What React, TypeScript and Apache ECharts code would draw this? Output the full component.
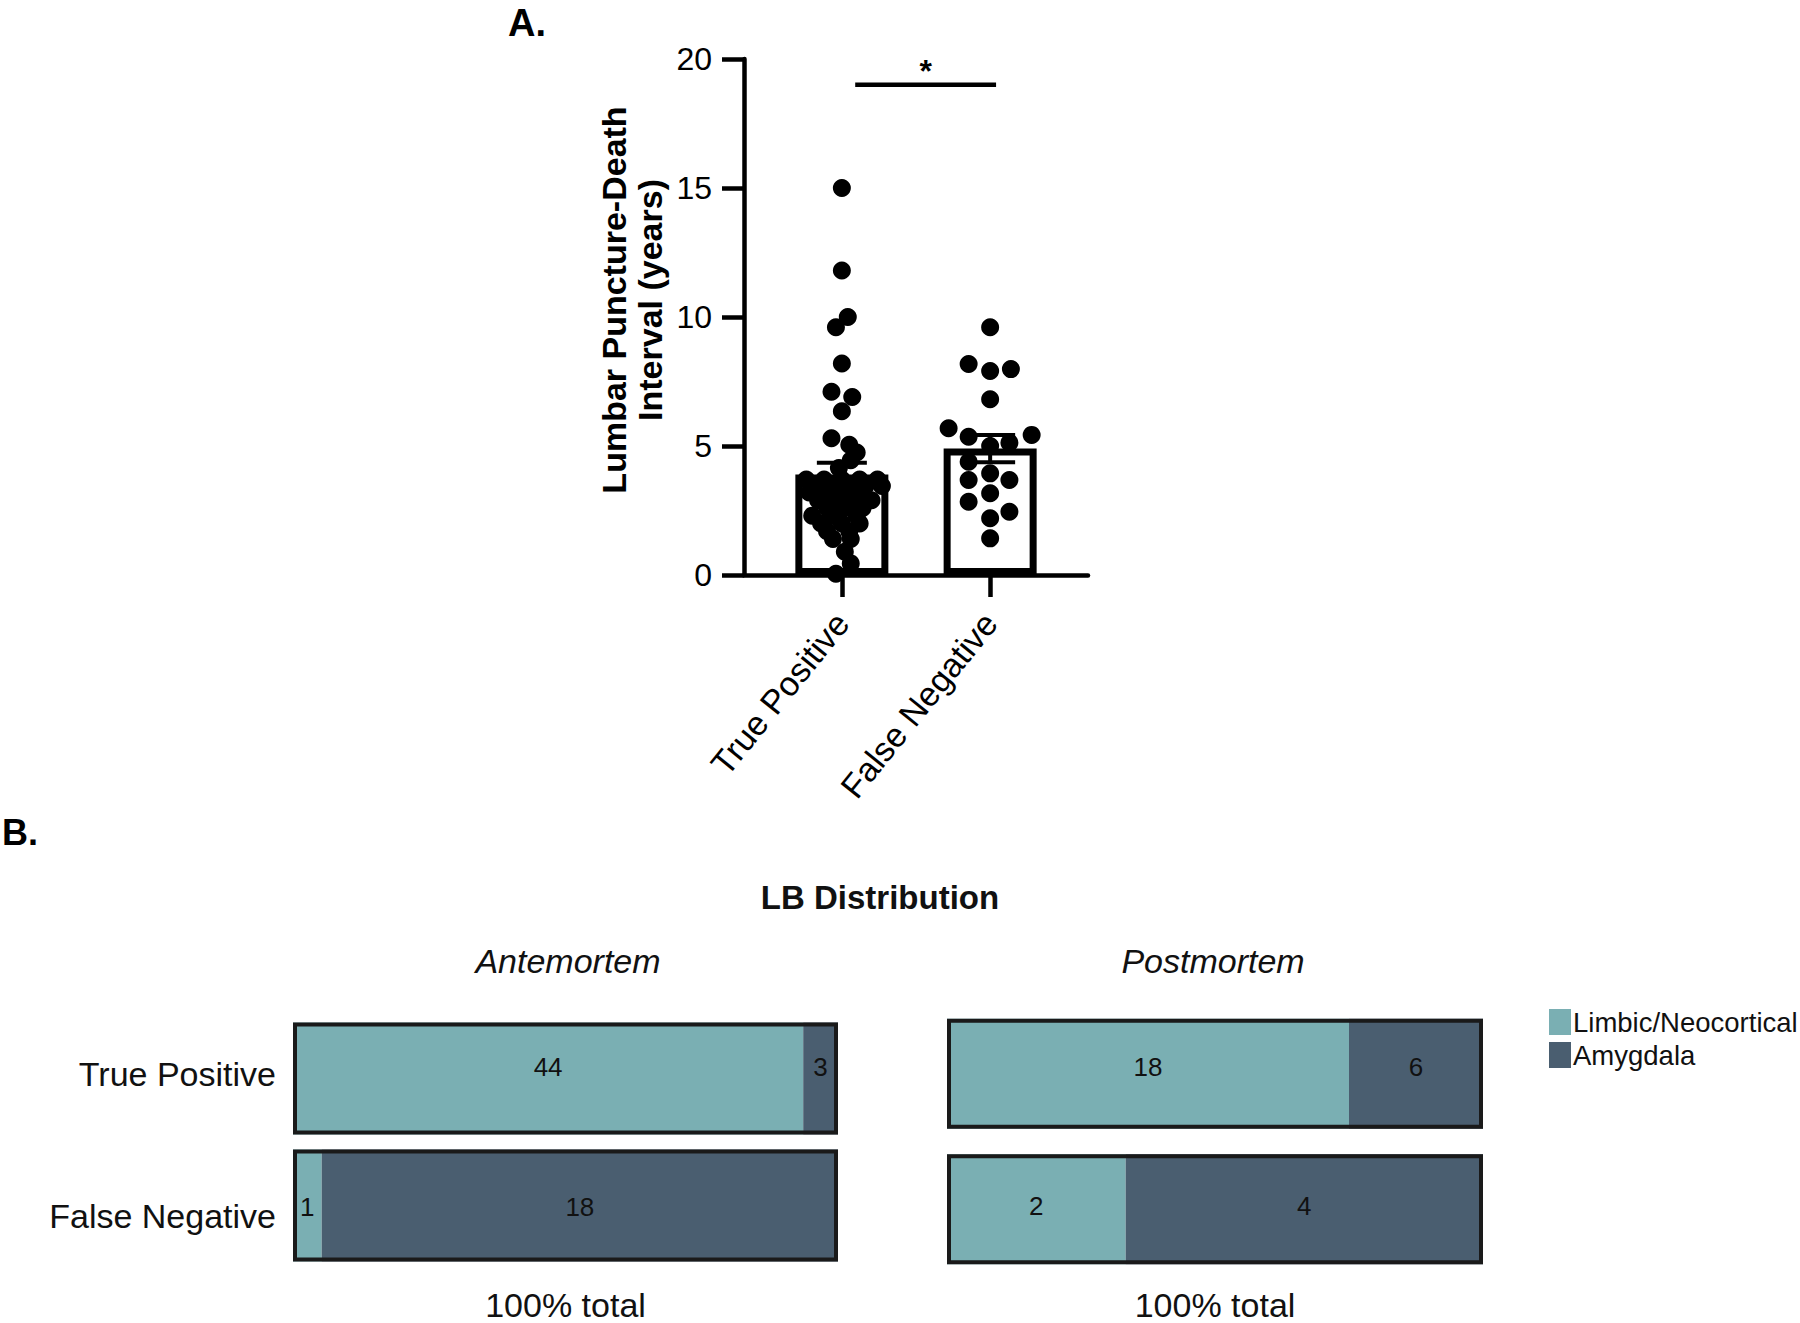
import React, { useEffect, useRef } from 'react';
import * as echarts from 'echarts';

const FONT = '"Liberation Sans", Arial, Helvetica, sans-serif';

// ---------- Panel A data ----------
const groupNames = ['True Positive', 'False Negative'];
const groupPositions = [1, 2];
const barMeans = [3.9, 4.9];
const barSems = [0.45, 0.53];
const tpValues = [
  15.0, 11.8, 10.0, 9.6, 8.2, 7.1, 6.9, 6.35, 5.3, 5.05, 4.75, 4.45, 4.15,
  3.7, 3.7, 3.7, 3.7, 3.7,
  3.45, 3.45, 3.45, 3.45, 3.45,
  3.2, 3.2, 3.2, 3.2,
  2.9, 2.9, 2.9, 2.9,
  2.6, 2.6, 2.6,
  2.3, 2.3, 2.3,
  2.0, 2.0, 2.0,
  1.7, 1.7,
  1.4, 1.4,
  0.9, 0.45, 0.05,
];
const tpJitter = [
  0, 0, 0.04, -0.04, 0, -0.07, 0.07, 0, -0.07, 0.05, 0.1, 0.06, -0.02,
  -0.24, -0.12, 0, 0.12, 0.24,
  -0.2, -0.08, 0.04, 0.16, 0.27,
  -0.22, -0.1, 0.02, 0.14,
  -0.16, -0.04, 0.08, 0.2,
  -0.1, 0.02, 0.14,
  -0.2, -0.06, 0.1,
  -0.14, 0, 0.12,
  -0.1, 0.05,
  -0.06, 0.06,
  0.02, 0.06, -0.04,
];
const fnValues = [
  9.6, 8.18, 7.91, 7.98, 6.81, 5.69, 5.36, 5.43, 5.13, 5.0,
  4.39, 3.94, 3.68, 3.68, 3.17, 2.84, 2.45, 2.2, 1.42,
];
const fnJitter = [
  0, -0.145, 0, 0.14, 0, -0.28, -0.145, 0.28, 0.13, 0,
  -0.145, 0, -0.145, 0.13, 0, -0.145, 0.13, 0, 0,
];
const yMin = 0;
const yMax = 20;
const yInterval = 5;
const sigSpan = [1.09, 2.04];
const sigLevel = 19.0;
const sigLabel = '*';

// ---------- Panel B data ----------
const lbCategories = ['True Positive', 'False Negative'];
const anteLimbic = [44, 1];
const anteAmygdala = [3, 18];
const postLimbic = [18, 2];
const postAmygdala = [6, 4];
const seriesNames = ['Limbic/Neocortical', 'Amygdala'];
const colLimbic = '#7AAFB3';
const colAmygdala = '#4A5E70';

const pct = (a: number[], b: number[], useA: boolean) =>
  a.map((v, i) => ((useA ? v : b[i]) / (v + b[i])) * 100);

function stackSeries(
  idx: number,
  limbic: number[],
  amyg: number[],
  barWidth: number,
  rowOffsets: number[]
) {
  const mk = (vals: number[], counts: number[]) =>
    vals.map((v, i) => ({
      value: v,
      label: {
        show: true,
        position: 'inside',
        fontSize: 26,
        color: '#111',
        fontFamily: FONT,
        offset: [0, rowOffsets[i]],
        formatter: String(counts[i]),
      },
    }));
  return [
    {
      name: seriesNames[0],
      type: 'bar',
      xAxisIndex: idx,
      yAxisIndex: idx,
      stack: 'lb' + idx,
      barWidth,
      barGap: '-100%',
      data: mk(pct(limbic, amyg, true), limbic),
      itemStyle: { color: colLimbic },
      z: 2,
    },
    {
      name: seriesNames[1],
      type: 'bar',
      xAxisIndex: idx,
      yAxisIndex: idx,
      stack: 'lb' + idx,
      barWidth,
      barGap: '-100%',
      data: mk(pct(limbic, amyg, false), amyg),
      itemStyle: { color: colAmygdala },
      z: 2,
    },
    {
      name: 'outline',
      type: 'bar',
      xAxisIndex: idx,
      yAxisIndex: idx,
      barWidth,
      barGap: '-100%',
      silent: true,
      data: limbic.map(() => 100),
      itemStyle: { color: 'rgba(0,0,0,0)', borderColor: '#1a1a1a', borderWidth: 4 },
      z: 3,
    },
  ];
}

export default function App() {
  const ref = useRef<HTMLDivElement>(null);

  useEffect(() => {
    if (!ref.current) return;
    const chart = echarts.init(ref.current, undefined, { renderer: 'svg' });

    const axisBlack = { color: '#000', width: 4.5 };

    const option: any = {
      animation: false,
      backgroundColor: '#fff',
      textStyle: { fontFamily: FONT },
      legend: {
        data: seriesNames,
        orient: 'vertical',
        left: 1549,
        top: 1008,
        padding: 0,
        itemWidth: 22,
        itemHeight: 26,
        itemGap: 5,
        icon: 'rect',
        textStyle: {
          fontSize: 27.5,
          lineHeight: 26,
          color: '#111',
          fontFamily: FONT,
          padding: [0, 0, 0, -3],
        },
      },
      grid: [
        { left: 744, top: 59, width: 344, height: 516 },
        { left: 293, top: 1015, width: 545, height: 257 },
        { left: 947, top: 1006, width: 536, height: 274 },
      ],
      xAxis: [
        {
          type: 'value',
          gridIndex: 0,
          min: 0.34,
          max: 2.66,
          splitLine: { show: false },
          axisLine: { show: true, lineStyle: axisBlack },
          axisTick: { show: true, customValues: groupPositions, length: 22, lineStyle: axisBlack },
          axisLabel: {
            customValues: groupPositions,
            formatter: (v: number) => groupNames[Math.round(v) - 1] ?? '',
            rotate: 51,
            margin: 42,
            fontSize: 34,
            color: '#000',
            fontFamily: FONT,
          },
        },
        {
          type: 'value',
          gridIndex: 1,
          min: 0,
          max: 100,
          axisLine: { show: false },
          axisTick: { show: false },
          axisLabel: { show: false },
          splitLine: { show: false },
          name: '100% total',
          nameLocation: 'middle',
          nameGap: 19,
          nameTextStyle: { fontSize: 34, color: '#111', fontFamily: FONT },
        },
        {
          type: 'value',
          gridIndex: 2,
          min: 0,
          max: 100,
          axisLine: { show: false },
          axisTick: { show: false },
          axisLabel: { show: false },
          splitLine: { show: false },
          name: '100% total',
          nameLocation: 'middle',
          nameGap: 11,
          nameTextStyle: { fontSize: 34, color: '#111', fontFamily: FONT },
        },
      ],
      yAxis: [
        {
          type: 'value',
          gridIndex: 0,
          min: yMin,
          max: yMax,
          interval: yInterval,
          splitLine: { show: false },
          axisLine: { show: true, lineStyle: axisBlack },
          axisTick: { show: true, length: 22, lineStyle: axisBlack },
          axisLabel: { fontSize: 32, margin: 32, color: '#000', fontFamily: FONT },
        },
        {
          type: 'category',
          gridIndex: 1,
          data: lbCategories,
          inverse: true,
          axisLine: { show: false },
          axisTick: { show: false },
          axisLabel: {
            fontSize: 34,
            margin: 17,
            color: '#111',
            fontFamily: FONT,
            formatter: (v: string, i: number) => (i === 0 ? `{tp|${v}}` : `{fn|${v}}`),
            rich: {
              tp: { fontSize: 34, color: '#111', fontFamily: FONT, padding: [0, 0, 9, 0] },
              fn: { fontSize: 34, color: '#111', fontFamily: FONT, padding: [20, 0, 0, 0] },
            },
          },
        },
        {
          type: 'category',
          gridIndex: 2,
          data: lbCategories,
          inverse: true,
          axisLine: { show: false },
          axisTick: { show: false },
          axisLabel: { show: false },
        },
      ],
      series: [
        {
          type: 'bar',
          xAxisIndex: 0,
          yAxisIndex: 0,
          barWidth: 93,
          data: groupPositions.map((x, i) => [x, barMeans[i]]),
          itemStyle: { color: '#fff', borderColor: '#000', borderWidth: 7 },
          z: 1,
        },
        {
          type: 'scatter',
          xAxisIndex: 0,
          yAxisIndex: 0,
          symbol: 'circle',
          symbolSize: 18,
          itemStyle: { color: '#000', opacity: 1 },
          data: tpValues.map((v, i) => [groupPositions[0] + tpJitter[i], v]),
          z: 3,
        },
        {
          type: 'scatter',
          xAxisIndex: 0,
          yAxisIndex: 0,
          symbol: 'circle',
          symbolSize: 18,
          itemStyle: { color: '#000', opacity: 1 },
          data: fnValues.map((v, i) => [groupPositions[1] + fnJitter[i], v]),
          z: 3,
        },
        {
          type: 'custom',
          xAxisIndex: 0,
          yAxisIndex: 0,
          encode: { x: 0, y: 1 },
          data: groupPositions.map((x, i) => [x, barMeans[i], barSems[i]]),
          z: 4,
          renderItem: (params: any, api: any) => {
            const x = api.value(0);
            const m = api.value(1);
            const s = api.value(2);
            const top = api.coord([x, m + s]);
            const bot = api.coord([x, m - s]);
            const half = 25;
            const st = { stroke: '#000', lineWidth: 4 };
            return {
              type: 'group',
              children: [
                { type: 'line', shape: { x1: top[0], y1: top[1], x2: bot[0], y2: bot[1] }, style: st },
                { type: 'line', shape: { x1: top[0] - half, y1: top[1], x2: top[0] + half, y2: top[1] }, style: st },
                { type: 'line', shape: { x1: bot[0] - half, y1: bot[1], x2: bot[0] + half, y2: bot[1] }, style: st },
              ],
            };
          },
        },
        {
          type: 'custom',
          xAxisIndex: 0,
          yAxisIndex: 0,
          encode: { x: [0, 1], y: 2 },
          data: [[sigSpan[0], sigSpan[1], sigLevel]],
          z: 4,
          renderItem: (params: any, api: any) => {
            const a = api.coord([api.value(0), api.value(2)]);
            const b = api.coord([api.value(1), api.value(2)]);
            return {
              type: 'group',
              children: [
                { type: 'line', shape: { x1: a[0], y1: a[1], x2: b[0], y2: b[1] }, style: { stroke: '#000', lineWidth: 4.5 } },
                {
                  type: 'text',
                  x: (a[0] + b[0]) / 2,
                  y: a[1] + 2,
                  style: {
                    text: sigLabel,
                    fontSize: 32,
                    fontWeight: 'bold',
                    fontFamily: FONT,
                    fill: '#000',
                    textAlign: 'center',
                    textVerticalAlign: 'bottom',
                  },
                },
              ],
            };
          },
        },
        ...stackSeries(1, anteLimbic, anteAmygdala, 112, [-12, 1]),
        ...stackSeries(2, postLimbic, postAmygdala, 110, [-7, -3]),
      ],
      graphic: [
        {
          type: 'text',
          left: 508,
          top: 4,
          style: { text: 'A.', fontSize: 38, fontWeight: 'bold', fontFamily: FONT, fill: '#000' },
        },
        {
          type: 'text',
          left: 2,
          top: 814,
          style: { text: 'B.', fontSize: 36, fontWeight: 'bold', fontFamily: FONT, fill: '#000' },
        },
        {
          type: 'text',
          x: 632,
          y: 300,
          rotation: Math.PI / 2,
          style: {
            text: 'Lumbar Puncture-Death\nInterval (years)',
            fontSize: 34,
            lineHeight: 36,
            fontWeight: 'bold',
            fontFamily: FONT,
            fill: '#000',
            textAlign: 'center',
            textVerticalAlign: 'middle',
          },
        },
        {
          type: 'text',
          x: 880,
          y: 897,
          style: {
            text: 'LB Distribution',
            fontSize: 33,
            fontWeight: 'bold',
            fontFamily: FONT,
            fill: '#111',
            textAlign: 'center',
            textVerticalAlign: 'middle',
          },
        },
        {
          type: 'text',
          x: 568,
          y: 961,
          style: {
            text: 'Antemortem',
            fontSize: 34,
            fontStyle: 'italic',
            fontFamily: FONT,
            fill: '#111',
            textAlign: 'center',
            textVerticalAlign: 'middle',
          },
        },
        {
          type: 'text',
          x: 1213,
          y: 961,
          style: {
            text: 'Postmortem',
            fontSize: 34,
            fontStyle: 'italic',
            fontFamily: FONT,
            fill: '#111',
            textAlign: 'center',
            textVerticalAlign: 'middle',
          },
        },
      ],
    };

    chart.setOption(option);
    return () => chart.dispose();
  }, []);

  return (
    <div
      ref={ref}
      style={{ position: 'fixed', left: 0, top: 0, width: 1800, height: 1323, background: '#fff' }}
    />
  );
}
